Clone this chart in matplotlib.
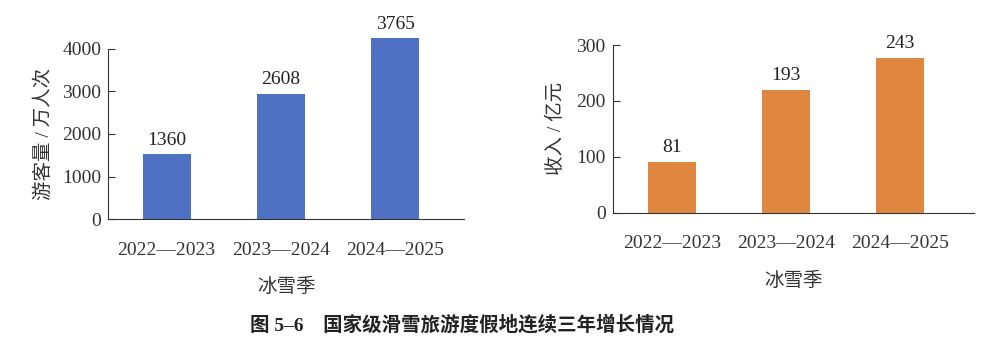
import matplotlib
matplotlib.use('Agg')
import matplotlib.pyplot as plt

seasons = ['2022—2023', '2023—2024', '2024—2025']
visitor_labels = ['1360', '2608', '3765']   # printed numbers
visitor_bars = [1527, 2943, 4235]           # bar heights as drawn
income_labels = ['81', '193', '243']
income_bars = [90.7, 219.5, 277.3]

fam = ['Liberation Serif', 'Noto Sans CJK SC']
plt.rcParams['font.family'] = fam
plt.rcParams['text.color'] = '#222222'
plt.rcParams['axes.edgecolor'] = '#333333'
plt.rcParams['xtick.color'] = '#333333'
plt.rcParams['ytick.color'] = '#333333'

fig = plt.figure(figsize=(10.04, 3.53), dpi=100)


def panel(rect, bars, labels, color, ylim, yticks, xlim, ylabel, ylpad):
    ax = fig.add_axes(rect)
    x = range(len(seasons))
    ax.bar(x, bars, width=0.42, color=color, clip_on=False, zorder=2)
    for i, (h, t) in enumerate(zip(bars, labels)):
        ax.annotate(t, (i, h), xytext=(0, 4), textcoords='offset points',
                    ha='center', va='bottom', fontsize=14,
                    annotation_clip=False)
    ax.set_ylim(*ylim)
    ax.set_xlim(*xlim)
    ax.set_yticks(yticks)
    ax.set_xticks(list(x))
    ax.set_xticklabels(seasons)
    ax.spines['top'].set_visible(False)
    ax.spines['right'].set_visible(False)
    ax.tick_params(axis='y', direction='in', length=5, pad=5, labelsize=14)
    ax.tick_params(axis='x', length=0, pad=16, labelsize=14)
    ax.set_ylabel(ylabel, fontsize=14, color='#333333', labelpad=ylpad)
    ax.set_xlabel('冰雪季', fontsize=14, color='#333333', labelpad=14)
    return ax


panel([0.1079, 0.3788, 0.3543, 0.4838], visitor_bars, visitor_labels, '#4f71c4',
      (0, 4000), [0, 1000, 2000, 3000, 4000], (-0.51, 2.6), '游客量 / 万人次', 7)
panel([0.6103, 0.3974, 0.3601, 0.4751], income_bars, income_labels, '#df8640',
      (0, 300), [0, 100, 200, 300], (-0.52, 2.65), '收入 / 亿元', 8)

fig.text(0.46, 0.079, '图 5–6　国家级滑雪旅游度假地连续三年增长情况',
         ha='center', va='center', fontsize=14, fontweight='bold')

fig.savefig('out.png', dpi=100)
